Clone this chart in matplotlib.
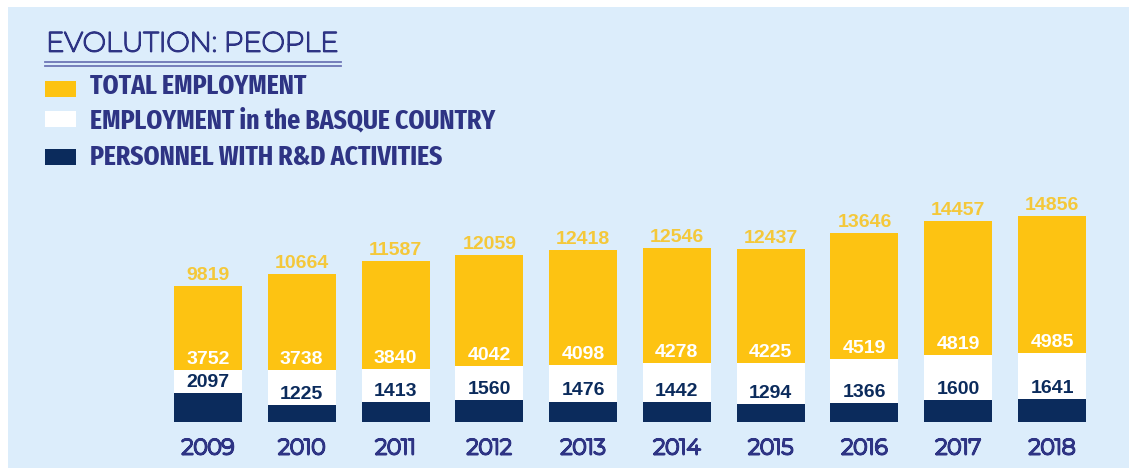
import matplotlib.pyplot as plt
from matplotlib.patches import Rectangle
from matplotlib.lines import Line2D
import matplotlib.patheffects as pe

# === Data ===
years = ['2009', '2010', '2011', '2012', '2013', '2014', '2015', '2016', '2017', '2018']
total_employment = [9819, 10664, 11587, 12059, 12418, 12546, 12437, 13646, 14457, 14856]
basque_employment = [3752, 3738, 3840, 4042, 4098, 4278, 4225, 4519, 4819, 4985]
rd_personnel = [2097, 1225, 1413, 1560, 1476, 1442, 1294, 1366, 1600, 1641]
legend_labels = ['TOTAL EMPLOYMENT', 'EMPLOYMENT in the BASQUE COUNTRY', 'PERSONNEL WITH R&D ACTIVITIES']

# === Colours ===
BG = '#DCEDFB'
YELLOW = '#FDC312'
NAVY = '#0B2B5C'
TEXT = '#2E3484'
LINE = '#6E76B6'
TOTAL_LBL = '#F4C83A'

GEO_FONT = ['Montserrat', 'DejaVu Sans']
COND_FONT = ['Fira Sans Extra Condensed', 'Fira Sans Condensed', 'DejaVu Sans']
NUM_FONT = ['Liberation Sans', 'DejaVu Sans']

W, H = 1129, 468
fig = plt.figure(figsize=(W / 100, H / 100), dpi=100)
fig.patch.set_facecolor('white')
fig.patches.append(Rectangle((8 / W, 0), 1 - 8 / W, 1 - 7 / H, transform=fig.transFigure,
                             facecolor=BG, edgecolor='none', zorder=-1))

# === Bars (overlaid, not stacked) ===
ax = fig.add_axes([151.7 / W, 46 / H, 956.6 / W, 222 / H])
ax.set_facecolor('none')
x = list(range(len(years)))
bw = 0.725
ax.bar(x, total_employment, width=bw, color=YELLOW, zorder=2)
ax.bar(x, basque_employment, width=bw, color='white', zorder=3)
ax.bar(x, rd_personnel, width=bw, color=NAVY, zorder=4)
ax.set_xlim(-0.6, 9.6)
ax.set_ylim(0, 16000)
for s in ax.spines.values():
    s.set_visible(False)
ax.set_yticks([])
ax.set_xticks(x, years, fontsize=15.5, color=TEXT, family=GEO_FONT)
ax.tick_params(axis='x', length=0, pad=11)
# the installed geometric face is light, thicken it with a stroke
for t in ax.get_xticklabels():
    t.set_path_effects([pe.withStroke(linewidth=1.7, foreground=TEXT)])

for i in x:
    ax.annotate(str(total_employment[i]), (i, total_employment[i]), xytext=(0, 1.5),
                textcoords='offset points', ha='center', va='bottom', fontsize=14,
                fontweight='bold', color=TOTAL_LBL, family=NUM_FONT, zorder=5)
    ax.annotate(str(basque_employment[i]), (i, basque_employment[i]), xytext=(0, 1.5),
                textcoords='offset points', ha='center', va='bottom', fontsize=14,
                fontweight='bold', color='white', family=NUM_FONT, zorder=5)
    ax.annotate(str(rd_personnel[i]), (i, rd_personnel[i]), xytext=(0, 1.5),
                textcoords='offset points', ha='center', va='bottom', fontsize=14,
                fontweight='bold', color=NAVY, family=NUM_FONT, zorder=5)

# === Title with double underline ===
fig.text(46 / W, 1 - 44 / H, 'EVOLUTION: PEOPLE', ha='left', va='center', fontsize=19.8,
         color=TEXT, family=GEO_FONT,
         path_effects=[pe.withStroke(linewidth=1.3, foreground=TEXT)])
for yy in (62, 65.5):
    fig.add_artist(Line2D([45 / W, 341 / W], [1 - yy / H, 1 - yy / H], color=LINE, lw=1.3))

# === Legend ===
sw_colors = [YELLOW, 'white', NAVY]
sw_centers = [89, 119.5, 156.5]
txt_centers = [86.5, 120.5, 157]
for c, yc, yt, lbl in zip(sw_colors, sw_centers, txt_centers, legend_labels):
    fig.patches.append(Rectangle((45 / W, 1 - (yc + 8) / H), 31 / W, 16 / H,
                                 transform=fig.transFigure, facecolor=c, edgecolor='none'))
    fig.text(90 / W, 1 - yt / H, lbl, ha='left', va='center', fontsize=20,
             fontweight='bold', color=TEXT, family=COND_FONT)

fig.savefig('out.png', dpi=100, facecolor=fig.get_facecolor())
